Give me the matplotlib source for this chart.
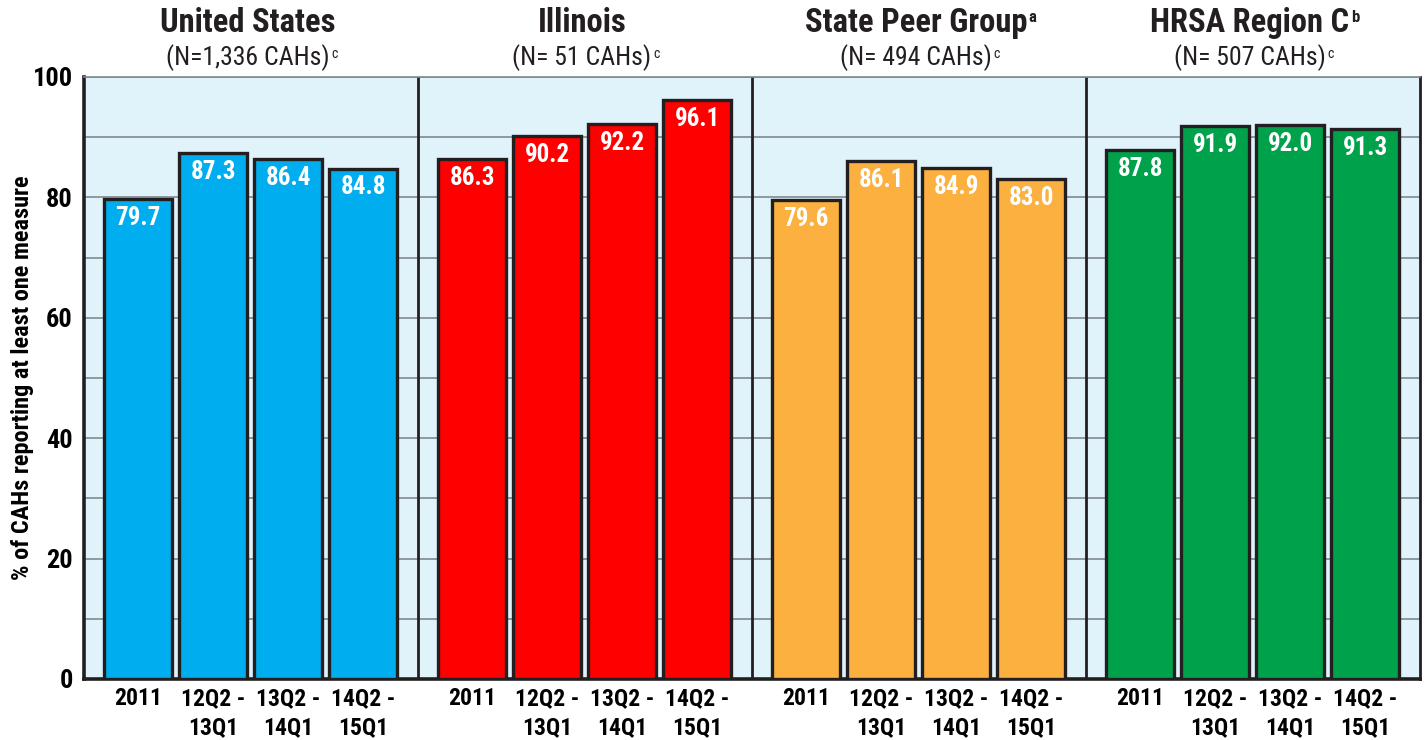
import numpy as np
import matplotlib
matplotlib.use("Agg")
import matplotlib.pyplot as plt
from matplotlib.transforms import blended_transform_factory

plt.rcParams['font.family'] = ['Roboto Condensed', 'Liberation Sans Narrow',
                               'Liberation Sans', 'DejaVu Sans']

# data
groups = ['United States', 'Illinois', 'State Peer Group', 'HRSA Region C']
group_sup = ['', '', 'a', 'b']
group_n = ['(N=1,336 CAHs)', '(N= 51 CAHs)', '(N= 494 CAHs)', '(N= 507 CAHs)']
periods = ['2011', '12Q2 -\n13Q1', '13Q2 -\n14Q1', '14Q2 -\n15Q1']
us = [79.7, 87.3, 86.4, 84.8]
illinois = [86.3, 90.2, 92.2, 96.1]
peer = [79.6, 86.1, 84.9, 83.0]
region_c = [87.8, 91.9, 92.0, 91.3]
series = [us, illinois, peer, region_c]
colors = ['#00AEEF', '#FF0000', '#FBB040', '#00A14B']

fig = plt.figure(figsize=(14.26, 7.4), dpi=100)
ax = fig.add_axes([84 / 1426, 61 / 740, 1336 / 1426, 602 / 740])
ax.set_facecolor('#E0F3FA')

gw = 4.45          # width of one panel in slot units
off = 0.72         # first bar centre inside a panel
bw = 0.9

xticks, xlabels = [], []
for g, vals in enumerate(series):
    x0 = g * gw
    xs = x0 + off + np.arange(len(vals))
    ax.bar(xs, vals, width=bw, color=colors[g], edgecolor='#231F20',
           linewidth=2.4, zorder=3)
    for x, v in zip(xs, vals):
        ax.annotate(f'{v:.1f}', (x, v), xytext=(0, -5), textcoords='offset points',
                    ha='center', va='top', color='white', fontsize=18,
                    fontweight='bold', zorder=4)
    xticks += list(xs)
    xlabels += periods
    if g > 0:
        ax.axvline(x0, color='#231F20', lw=2, zorder=2)

ax.set_xlim(0, gw * len(series))
ax.set_ylim(0, 100)
ax.set_yticks([0, 20, 40, 60, 80, 100])
ax.set_yticks(np.arange(0, 101, 10), minor=True)
ax.grid(axis='y', which='both', color='#7F8A8E', lw=1.2, zorder=1)
ax.set_xticks(xticks)
ax.set_xticklabels(xlabels, fontsize=17, fontweight='bold', linespacing=1.35,
                   va='top')
ax.tick_params(axis='both', which='both', length=0)
ax.tick_params(axis='y', labelsize=19, pad=8)
for lab in ax.get_yticklabels():
    lab.set_fontweight('bold')
ax.tick_params(axis='x', pad=6)

for s in ['left', 'bottom', 'right']:
    ax.spines[s].set_color('#231F20')
    ax.spines[s].set_linewidth(2.6)
ax.spines['right'].set_linewidth(2)
ax.spines['top'].set_color('#7F8A8E')
ax.spines['top'].set_linewidth(1.2)

ax.set_ylabel('% of CAHs reporting at least one measure', fontsize=17.5,
              fontweight='bold', va='center')
ax.yaxis.set_label_coords(-62 / 1336, 0.5)

# panel titles with small superscript notes
tr = blended_transform_factory(ax.transData, fig.transFigure)
for g, name in enumerate(groups):
    cx = g * gw + gw / 2
    t1 = ax.text(cx - 0.04, 1 - 23 / 740, name, transform=tr, ha='center',
                 va='center', fontsize=23.5, fontweight='bold', color='#231F20')
    if group_sup[g]:
        ax.annotate(group_sup[g], xy=(1.0, 1.0), xycoords=t1, xytext=(1, -2),
                    textcoords='offset points', ha='left', va='top',
                    fontsize=12, fontweight='bold', color='#231F20')
    t2 = ax.text(cx - 0.04, 1 - 58 / 740, group_n[g], transform=tr, ha='center',
                 va='center', fontsize=18.5, color='#231F20')
    ax.annotate('c', xy=(1.0, 1.0), xycoords=t2, xytext=(1, -2),
                textcoords='offset points', ha='left', va='top',
                fontsize=10, color='#231F20')

fig.savefig('out.png', dpi=100)
